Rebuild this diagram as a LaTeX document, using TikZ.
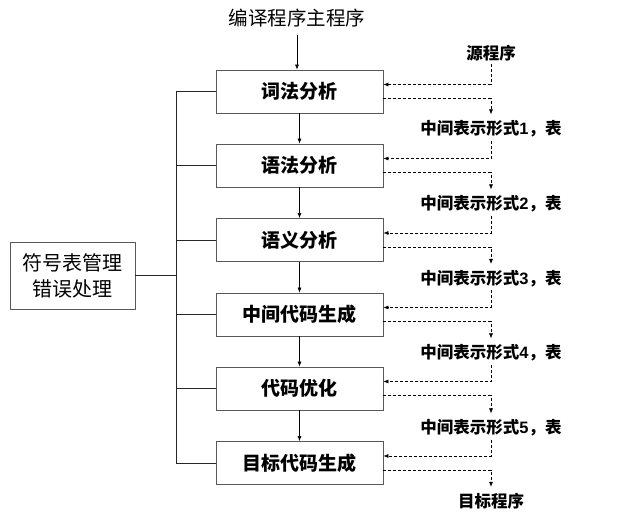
\documentclass[tikz,border=0pt]{standalone}
\usepackage{fontspec}
\newfontfamily\cjk{Noto Sans CJK SC}
\newfontfamily\num{Liberation Sans}
\usetikzlibrary{arrows.meta}
\begin{document}
\begin{tikzpicture}[x=1pt,y=-1pt,
  box/.style={draw=black!65, line width=0.8pt, minimum width=167pt, minimum height=43pt, inner sep=0pt,
    font=\cjk\fontsize{19}{22}\selectfont\bfseries},
  symbox/.style={draw=black!65, line width=0.8pt, minimum width=125pt, minimum height=67pt, inner sep=0pt, align=center,
    font=\cjk\fontsize{20}{26}\selectfont},
  title/.style={font=\cjk\fontsize{19.5}{22}\selectfont, inner sep=1pt},
  lab/.style={font=\cjk\fontsize{16.5}{18}\selectfont\bfseries, inner sep=1pt},
  arr/.style={-{Latex[length=5pt,width=4pt]}, line width=0.6pt},
  dasharr/.style={dash pattern=on 3pt off 2pt, -{Latex[length=5pt,width=4pt]}, line width=0.6pt},
  link/.style={line width=0.8pt, draw=black!85},
]
\useasboundingbox (0,0) rectangle (638,513);

\node[title] (main) at (297,18) {编译程序主程序};

\node[box] (b1) at (299.5,91.5) {词法分析};
\node[box] (b2) at (299.5,165.5) {语法分析};
\node[box] (b3) at (299.5,240) {语义分析};
\node[box] (b4) at (299.5,314.5) {中间代码生成};
\node[box] (b5) at (299.5,388.5) {代码优化};
\node[box] (b6) at (299.5,463) {目标代码生成};

\node[symbox] (sym) at (72.5,275.5) {符号表管理\\错误处理};

\coordinate (bus) at (176,0);

\draw[arr] ([yshift=-7pt]main.south) -- (main.south |- b1.north);
\draw[arr] (b1) -- (b2);
\draw[arr] (b2) -- (b3);
\draw[arr] (b3) -- (b4);
\draw[arr] (b4) -- (b5);
\draw[arr] (b5) -- (b6);

\draw[link] (b1.west -| bus) -- (b6.west -| bus);
\foreach \b in {b1,b2,b3,b4,b5,b6}{
  \draw[link] (\b.west) -- (\b.west -| bus);
}
\draw[link] (sym.east) -- (sym.east -| bus);

\node[lab] (src) at (491,53) {源程序};
\node[lab] (m1) at (491,129) {中间表示形式{\num\bfseries 1}，表};
\node[lab] (m2) at (491,204) {中间表示形式{\num\bfseries 2}，表};
\node[lab] (m3) at (491,278.5) {中间表示形式{\num\bfseries 3}，表};
\node[lab] (m4) at (491,353) {中间表示形式{\num\bfseries 4}，表};
\node[lab] (m5) at (491,428) {中间表示形式{\num\bfseries 5}，表};
\node[lab] (tgt) at (491,501) {目标程序};

\foreach \a/\b/\c in {src/b1/m1, m1/b2/m2, m2/b3/m3, m3/b4/m4, m4/b5/m5, m5/b6/tgt}{
  \draw[dasharr] ([yshift=-2pt]\a.south) |- ([yshift=7pt]\b.east);
  \draw[dasharr, shorten >=5pt] ([yshift=-7pt]\b.east) -| (\c.north);
}
\end{tikzpicture}
\end{document}
